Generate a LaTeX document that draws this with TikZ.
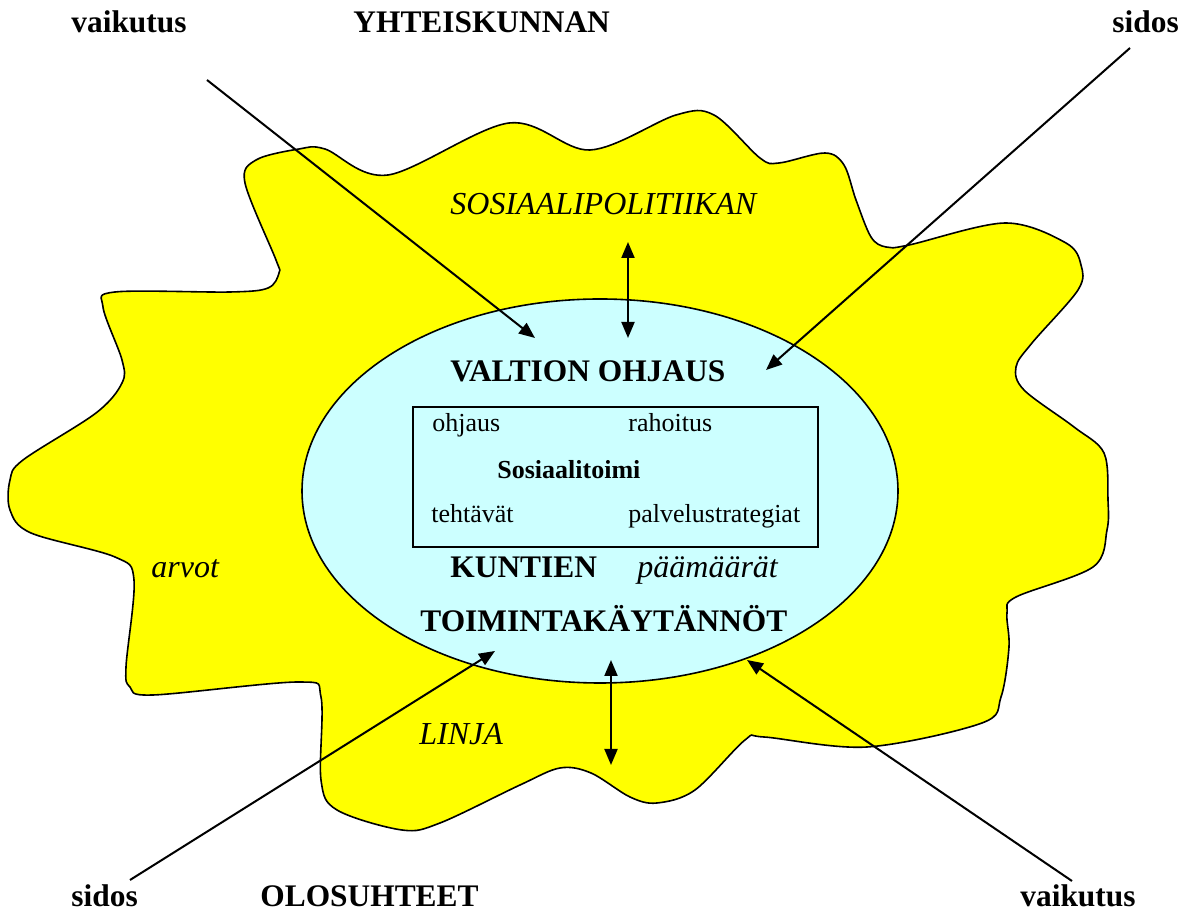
\documentclass[tikz,border=0pt]{standalone}
\usepackage{fontspec}
\setmainfont{Liberation Serif}
\usetikzlibrary{arrows.meta}
\definecolor{blobyellow}{RGB}{255,255,0}
\definecolor{corecyan}{RGB}{204,255,255}

\begin{document}
\begin{tikzpicture}[x=0.5pt,y=-0.5pt,
  lbl/.style={inner sep=0pt, anchor=base west},
  big/.style={lbl, font=\fontsize{15.7}{18}\selectfont\bfseries},
  ital/.style={lbl, font=\fontsize{16}{19}\selectfont\itshape},
  small/.style={lbl, font=\fontsize{13}{15}\selectfont},
  smallb/.style={lbl, font=\fontsize{13}{15}\selectfont\bfseries},
  link/.style={line width=1pt, -{Triangle[length=8pt,width=6.5pt]}},
  twoway/.style={line width=1pt, {Triangle[length=8pt,width=6.5pt]}-{Triangle[length=8pt,width=6.5pt]}},
]
\useasboundingbox (0,0) rectangle (1180,913);

% the wavy society cloud
\filldraw[fill=blobyellow, draw=black, line width=0.8pt]
  plot[smooth cycle, tension=0.55] coordinates {
  (245,183) (256,160) (299,149) (325,149) (388,175) (509,123) (590,150)
  (676,115) (714,115) (760,158) (779,163) (825,153) (844,165) (856,200)
  (871,237) (886,247) (909,245) (1005,223) (1066,243) (1081,265) (1078,290)
  (1032,343) (1016,367) (1024,390) (1074,427) (1104,453) (1108,500) (1107,530)
  (1093,567) (1016,597) (1007,613) (1009,647) (1001,697) (982,723) (867,747)
  (764,737) (745,740) (695,790) (657,803) (630,797) (591,773) (560,768)
  (520,785) (440,823) (402,830) (337,810) (321,780) (321,697) (299,682)
  (153,695) (130,687) (126,667) (134,580) (115,557) (31,533) (10,510)
  (10,480) (23,460) (96,413) (122,383) (122,360) (103,307) (115,292)
  (230,292) (268,288) (279,273) (276,260)};

% municipal core and the social services box
\filldraw[fill=corecyan, draw=black, line width=0.8pt]
  (600,491) ellipse [x radius=298, y radius=192];
\draw[line width=1pt] (413,407) rectangle (818,547);

% outer labels
\node[big] (vaiTop) at (71,33) {vaikutus};
\node[big] (yht) at (353,33) {YHTEISKUNNAN};
\node[big] (sidTop) at (1112,33) {sidos};
\node[big] (sidBot) at (71,907) {sidos};
\node[big] (olo) at (260,907) {OLOSUHTEET};
\node[big] (vaiBot) at (1020,907) {vaikutus};

% cloud labels
\node[ital] (sos) at (450,215) {SOSIAALIPOLITIIKAN};
\node[ital] (arvot) at (151,578) {arvot};
\node[ital] (linja) at (419,745) {LINJA};

% core labels
\node[big] (valtio) at (450,382) {VALTION OHJAUS};
\node[small] (ohj) at (432,432) {ohjaus};
\node[small] (rah) at (628,432) {rahoitus};
\node[smallb] (sostoimi) at (497,479) {Sosiaalitoimi};
\node[small] (teht) at (431,523) {tehtävät};
\node[small] (palv) at (628,523) {palvelustrategiat};
\node[big] (kunt) at (450,578) {KUNTIEN};
\node[ital] (paam) at (637,578) {päämäärät};
\node[big] (toim) at (420,632) {TOIMINTAKÄYTÄNNÖT};

% connector end points
\coordinate (a1s) at (207,80);
\coordinate (a1e) at (535,338);
\coordinate (a2s) at (1130,48);
\coordinate (a2e) at (766,370);
\coordinate (a3s) at (130,880);
\coordinate (a3e) at (495,651);
\coordinate (a4s) at (1072,881);
\coordinate (a4e) at (747,660);
\coordinate (u1) at (628,242);
\coordinate (u2) at (628,338);
\coordinate (d1) at (611,660);
\coordinate (d2) at (611,765);

\draw[link] (a1s) -- (a1e);
\draw[link] (a2s) -- (a2e);
\draw[link] (a3s) -- (a3e);
\draw[link] (a4s) -- (a4e);
\draw[twoway] (u1) -- (u2);
\draw[twoway] (d1) -- (d2);
\end{tikzpicture}
\end{document}
